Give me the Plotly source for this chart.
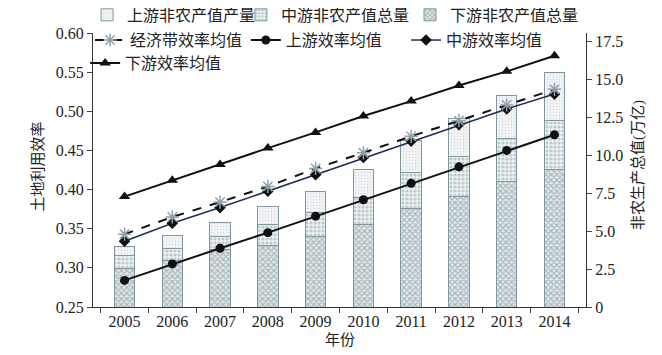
import plotly.graph_objects as go

years = ["2005", "2006", "2007", "2008", "2009", "2010", "2011", "2012", "2013", "2014"]

# Stacked bars (right axis, 万亿)
down_gdp = [2.54, 3.08, 3.80, 4.08, 4.62, 5.46, 6.50, 7.27, 8.25, 9.10]
mid_gdp = [0.87, 0.78, 0.82, 1.38, 1.63, 1.79, 2.36, 2.64, 2.87, 3.23]
up_gdp = [0.60, 0.83, 0.95, 1.19, 1.35, 1.83, 2.15, 2.53, 2.82, 3.17]

# Efficiency lines (left axis)
belt_eff = [0.343, 0.365, 0.384, 0.404, 0.427, 0.447, 0.468, 0.488, 0.508, 0.528]
up_eff = [0.284, 0.305, 0.325, 0.345, 0.366, 0.387, 0.408, 0.429, 0.450, 0.470]
mid_eff = [0.334, 0.357, 0.377, 0.398, 0.419, 0.441, 0.462, 0.483, 0.503, 0.522]
down_eff = [0.391, 0.412, 0.432, 0.453, 0.473, 0.494, 0.513, 0.533, 0.551, 0.571]

left_ticks = [0.25, 0.30, 0.35, 0.40, 0.45, 0.50, 0.55, 0.60]
right_ticks = [0, 2.5, 5.0, 7.5, 10.0, 12.5, 15.0, 17.5]
right_ticktext = ["0", "2.5", "5.0", "7.5", "10.0", "12.5", "15.0", "17.5"]

FONT = "Liberation Serif, Noto Sans CJK SC, serif"
bar_line = dict(color="#7f979d", width=1)

fig = go.Figure()

fig.add_trace(go.Bar(
    x=years, y=down_gdp, name="下游非农产值总量", yaxis="y", legend="legend3",
    width=0.43,
    marker=dict(color="#c9d4d7", line=bar_line,
                pattern=dict(shape="x", size=4, solidity=0.55, fgcolor="#738a90", bgcolor="#e2e8ea")),
))
fig.add_trace(go.Bar(
    x=years, y=mid_gdp, name="中游非农产值总量", yaxis="y", legend="legend2",
    width=0.43,
    marker=dict(color="#dde5e7", line=bar_line,
                pattern=dict(shape=".", size=4, solidity=0.5, fgcolor="#8ea2a7", bgcolor="#eef2f3")),
))
fig.add_trace(go.Bar(
    x=years, y=up_gdp, name="上游非农产值产量", yaxis="y", legend="legend",
    width=0.43,
    marker=dict(color="#eef2f3", line=bar_line,
                pattern=dict(shape=".", size=3, solidity=0.3, fgcolor="#b8c6ca", bgcolor="#f6f8f9")),
))

fig.add_trace(go.Scatter(
    x=years, y=mid_eff, name="中游效率均值", yaxis="y2", legend="legend6",
    mode="lines+markers",
    line=dict(color="#1f2d5a", width=1.5),
    marker=dict(symbol="diamond", size=9, color="#111111"),
))
fig.add_trace(go.Scatter(
    x=years, y=belt_eff, name="经济带效率均值", yaxis="y2", legend="legend4",
    mode="lines+markers",
    line=dict(color="#111111", width=2, dash="dash"),
    marker=dict(symbol="asterisk-open", size=11, color="#8fa3aa",
                line=dict(color="#8fa3aa", width=1.5)),
))
fig.add_trace(go.Scatter(
    x=years, y=up_eff, name="上游效率均值", yaxis="y2", legend="legend5",
    mode="lines+markers",
    line=dict(color="#111111", width=2),
    marker=dict(symbol="circle", size=9, color="#111111"),
))
fig.add_trace(go.Scatter(
    x=years, y=down_eff, name="下游效率均值", yaxis="y2", legend="legend7",
    mode="lines+markers",
    line=dict(color="#111111", width=2),
    marker=dict(symbol="triangle-up", size=10, color="#111111"),
))

leg_common = dict(orientation="h", xanchor="left", yanchor="middle",
                  bgcolor="rgba(0,0,0,0)", font=dict(family=FONT, size=16, color="#222"),
                  itemwidth=30, tracegroupgap=0)

def leg(x, y):
    d = dict(leg_common)
    d.update(x=x, y=y)
    return d

title_font = dict(family=FONT, size=15, color="#222")

fig.update_layout(
    width=654, height=347,
    margin=dict(l=85, r=76, t=25, b=48, autoexpand=False),
    paper_bgcolor="white", plot_bgcolor="white",
    barmode="stack",
    font=dict(family=FONT, size=16, color="#222"),
    xaxis=dict(
        type="category", tickson="boundaries", ticks="outside", ticklen=5,
        showline=True, linecolor="#333", linewidth=1, showgrid=False,
        tickfont=dict(family=FONT, size=16, color="#222"),
    ),
    yaxis=dict(
        side="right", range=[0, 18.08], tickvals=right_ticks, ticktext=right_ticktext,
        ticks="outside", ticklen=5, showline=True, linecolor="#333", linewidth=1,
        showgrid=False, zeroline=False,
        tickfont=dict(family=FONT, size=16, color="#222"),
    ),
    yaxis2=dict(
        side="left", overlaying="y", range=[0.25, 0.60], tickvals=left_ticks,
        tickformat=".2f", ticks="outside", ticklen=5, showline=True, linecolor="#333",
        linewidth=1, showgrid=False, zeroline=False,
        tickfont=dict(family=FONT, size=16, color="#222"),
    ),
    legend=leg(-0.012, 1.066),
    legend2=leg(0.300, 1.066),
    legend3=leg(0.643, 1.066),
    legend4=leg(-0.006, 0.974),
    legend5=leg(0.310, 0.974),
    legend6=leg(0.635, 0.974),
    legend7=leg(-0.016, 0.890),
    showlegend=True,
    annotations=[
        dict(text="土地利用效率", xref="paper", yref="paper", x=-0.1126, y=0.515,
             xanchor="center", yanchor="middle", textangle=-90, showarrow=False, font=title_font),
        dict(text="非农生产总值(万亿)", xref="paper", yref="paper", x=1.1055, y=0.518,
             xanchor="center", yanchor="middle", textangle=-90, showarrow=False, font=title_font),
        dict(text="年份", xref="paper", yref="paper", x=0.501, y=-0.1204,
             xanchor="center", yanchor="middle", showarrow=False, font=title_font),
    ],
)

fig.write_html("out.html")
